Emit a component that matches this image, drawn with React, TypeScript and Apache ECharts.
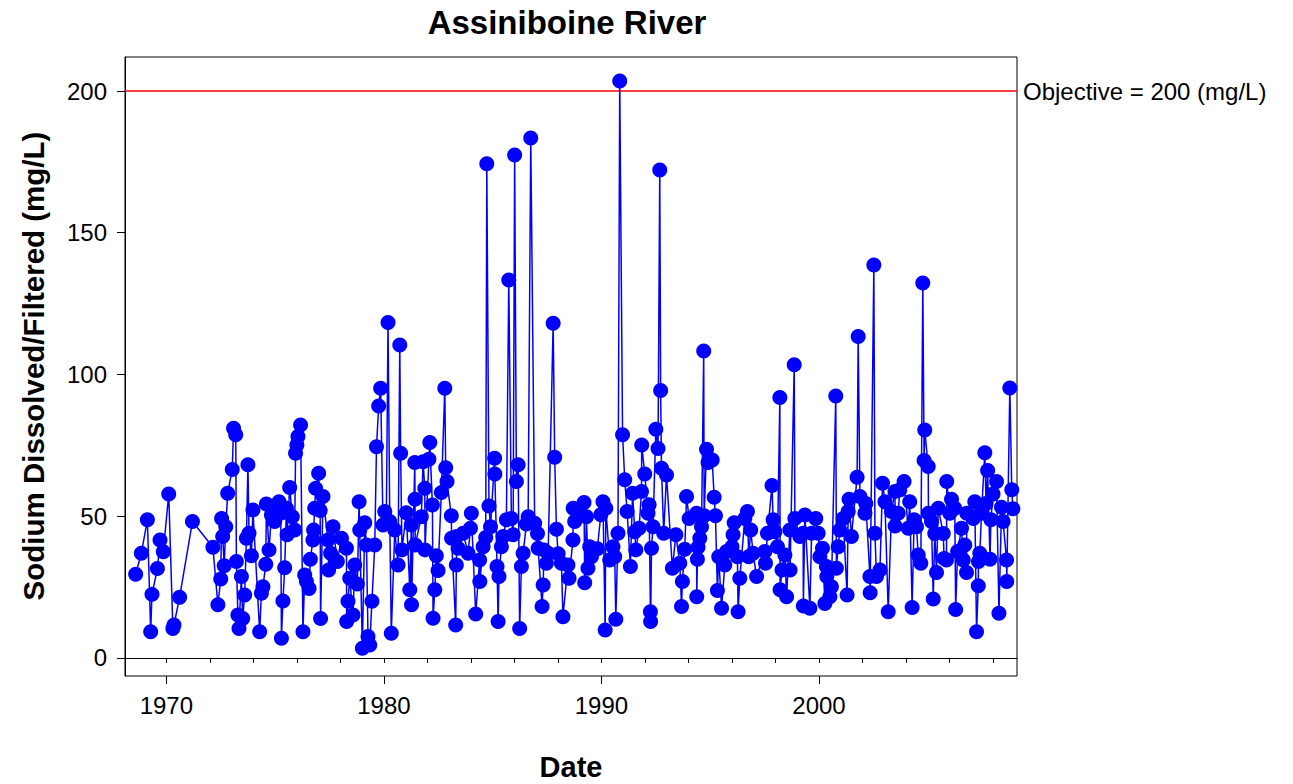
import React, { useEffect, useRef } from "react";
import * as echarts from "echarts";

const dates = [
  1968.59, 1968.85, 1969.13, 1969.28, 1969.34, 1969.59, 1969.71, 1969.86, 1970.11, 1970.30,
  1970.35, 1970.61, 1971.20, 1972.14, 1972.37, 1972.50, 1972.54, 1972.59, 1972.66, 1972.73,
  1972.82, 1973.03, 1973.09, 1973.19, 1973.22, 1973.29, 1973.34, 1973.45, 1973.51, 1973.60,
  1973.68, 1973.75, 1973.80, 1973.91, 1973.98, 1974.29, 1974.37, 1974.44, 1974.57, 1974.60,
  1974.72, 1974.83, 1974.87, 1974.98, 1975.18, 1975.26, 1975.29, 1975.36, 1975.44, 1975.52,
  1975.55, 1975.67, 1975.79, 1975.90, 1975.94, 1976.00, 1976.05, 1976.17, 1976.28, 1976.36,
  1976.44, 1976.56, 1976.62, 1976.74, 1976.77, 1976.82, 1976.86, 1977.00, 1977.07, 1977.09,
  1977.20, 1977.43, 1977.46, 1977.55, 1977.66, 1977.86, 1978.05, 1978.28, 1978.29, 1978.35,
  1978.43, 1978.58, 1978.66, 1978.78, 1978.86, 1978.89, 1979.01, 1979.12, 1979.20, 1979.27,
  1979.35, 1979.45, 1979.58, 1979.66, 1979.76, 1979.85, 1979.96, 1980.04, 1980.11, 1980.19,
  1980.27, 1980.34, 1980.50, 1980.65, 1980.73, 1980.77, 1980.83, 1981.03, 1981.19, 1981.26,
  1981.27, 1981.42, 1981.43, 1981.44, 1981.72, 1981.80, 1981.88, 1981.89, 1982.07, 1982.11,
  1982.23, 1982.26, 1982.34, 1982.41, 1982.49, 1982.64, 1982.80, 1982.84, 1982.90, 1983.10,
  1983.11, 1983.30, 1983.33, 1983.34, 1983.41, 1983.64, 1983.87, 1983.98, 1984.02, 1984.22,
  1984.40, 1984.41, 1984.56, 1984.68, 1984.73, 1984.83, 1984.90, 1985.09, 1985.10, 1985.20,
  1985.25, 1985.29, 1985.40, 1985.48, 1985.63, 1985.74, 1985.86, 1985.94, 1986.01, 1986.09,
  1986.17, 1986.24, 1986.32, 1986.40, 1986.55, 1986.63, 1986.75, 1986.93, 1987.06, 1987.09,
  1987.27, 1987.32, 1987.36, 1987.47, 1987.55, 1987.78, 1987.85, 1987.93, 1988.01, 1988.16,
  1988.23, 1988.46, 1988.51, 1988.69, 1988.70, 1988.77, 1988.92, 1989.20, 1989.23, 1989.31,
  1989.38, 1989.46, 1989.54, 1989.81, 1989.97, 1990.07, 1990.17, 1990.20, 1990.38, 1990.53,
  1990.61, 1990.66, 1990.76, 1990.84, 1990.97, 1991.07, 1991.18, 1991.33, 1991.43, 1991.53,
  1991.58, 1991.73, 1991.84, 1991.85, 1991.99, 1992.14, 1992.19, 1992.25, 1992.26, 1992.30,
  1992.37, 1992.50, 1992.60, 1992.68, 1992.72, 1992.76, 1992.86, 1992.99, 1993.26, 1993.42,
  1993.60, 1993.68, 1993.72, 1993.83, 1993.91, 1994.03, 1994.37, 1994.38, 1994.41, 1994.44,
  1994.52, 1994.60, 1994.70, 1994.72, 1994.83, 1994.90, 1995.09, 1995.18, 1995.24, 1995.33,
  1995.39, 1995.52, 1995.67, 1995.75, 1996.00, 1996.05, 1996.10, 1996.25, 1996.28, 1996.36,
  1996.59, 1996.71, 1996.77, 1996.86, 1996.97, 1997.13, 1997.51, 1997.54, 1997.63, 1997.84,
  1997.89, 1997.97, 1998.09, 1998.20, 1998.21, 1998.30, 1998.43, 1998.51, 1998.66, 1998.67,
  1998.86, 1998.89, 1999.12, 1999.27, 1999.28, 1999.35, 1999.58, 1999.66, 1999.85, 1999.96,
  2000.04, 2000.16, 2000.27, 2000.34, 2000.36, 2000.50, 2000.57, 2000.77, 2000.80, 2000.88,
  2000.96, 2001.11, 2001.29, 2001.34, 2001.38, 2001.49, 2001.75, 2001.80, 2001.88, 2002.11,
  2002.15, 2002.34, 2002.35, 2002.52, 2002.57, 2002.64, 2002.80, 2002.92, 2003.03, 2003.18,
  2003.33, 2003.49, 2003.50, 2003.64, 2003.71, 2003.91, 2004.10, 2004.17, 2004.28, 2004.37,
  2004.48, 2004.56, 2004.68, 2004.77, 2004.83, 2004.86, 2005.02, 2005.03, 2005.17, 2005.25,
  2005.32, 2005.40, 2005.48, 2005.71, 2005.75, 2005.86, 2005.87, 2006.01, 2006.09, 2006.24,
  2006.28, 2006.37, 2006.55, 2006.63, 2006.70, 2006.78, 2006.79, 2007.09, 2007.16, 2007.24,
  2007.32, 2007.33, 2007.39, 2007.47, 2007.62, 2007.68, 2007.75, 2007.86, 2007.90, 2008.00,
  2008.16, 2008.27, 2008.39, 2008.46, 2008.62, 2008.63, 2008.77, 2008.86, 2008.91,
];

const sodium = [
  29.5, 36.9, 48.7, 9.2, 22.4, 31.5, 41.6, 37.4, 57.8, 10.4,
  11.6, 21.4, 48.1, 39.0, 18.7, 27.8, 49.2, 42.8, 32.5, 46.3,
  58.1, 66.5, 81.0, 78.7, 34.0, 15.1, 10.4, 28.7, 13.9, 22.2,
  42.2, 68.1, 44.0, 36.0, 52.2, 9.2, 22.8, 25.1, 33.0, 54.3,
  38.1, 50.4, 52.8, 48.1, 55.1, 51.0, 6.9, 20.1, 31.8, 52.8,
  43.4, 60.1, 49.8, 45.1, 72.2, 75.1, 78.1, 82.2, 9.2, 29.2,
  26.9, 24.5, 34.8, 41.6, 45.1, 52.8, 59.8, 65.1, 52.0, 13.9,
  56.9, 41.6, 31.0, 36.9, 46.3, 34.0, 42.2, 38.7, 12.8, 20.0,
  28.1, 15.1, 32.8, 26.1, 55.1, 45.1, 3.4, 47.7, 39.8, 7.5,
  4.5, 20.0, 39.8, 74.5, 88.9, 95.1, 46.9, 51.6, 47.5, 118.3,
  48.1, 8.7, 45.1, 32.8, 110.4, 72.2, 38.1, 51.2, 24.0, 46.9,
  18.7, 68.9, 56.0, 39.8, 49.8, 69.2, 59.8, 38.1, 70.1, 76.0,
  53.9, 14.0, 24.0, 36.0, 30.8, 58.3, 95.1, 67.1, 62.2, 50.1,
  42.2, 11.6, 32.8, 42.8, 38.7, 44.0, 36.9, 45.7, 51.0, 15.5,
  34.5, 26.9, 39.2, 42.5, 174.3, 53.6, 46.3, 70.4, 64.9, 32.2,
  12.8, 28.7, 39.2, 42.8, 48.7, 133.3, 49.2, 43.4, 177.4, 62.2,
  68.1, 10.4, 32.2, 36.9, 47.2, 49.8, 183.4, 47.5, 43.9, 38.7,
  18.1, 25.7, 38.1, 33.4, 36.9, 118.1, 70.8, 45.4, 36.7, 33.4,
  14.5, 32.8, 28.1, 41.6, 52.8, 48.1, 51.0, 54.8, 26.5, 49.8,
  31.6, 39.2, 35.7, 38.5, 50.5, 55.1, 9.8, 52.8, 34.5, 39.2,
  35.7, 13.6, 44.0, 203.5, 78.7, 62.8, 51.6, 32.2, 58.1, 44.5,
  38.1, 45.7, 58.7, 75.1, 64.9, 51.0, 54.0, 16.3, 12.8, 38.7,
  46.3, 80.7, 73.9, 172.1, 94.3, 66.9, 44.0, 64.5, 31.6, 43.4,
  33.4, 18.1, 26.9, 38.3, 56.9, 49.2, 51.0, 21.6, 34.8, 39.0,
  42.2, 46.3, 108.3, 50.1, 73.6, 68.9, 69.8, 56.7, 50.1, 23.8,
  35.7, 17.5, 32.8, 37.5, 39.2, 43.4, 47.7, 35.7, 16.3, 28.1,
  49.2, 51.6, 35.7, 45.1, 36.9, 28.7, 37.5, 33.4, 44.0, 60.8,
  48.7, 44.5, 39.2, 91.9, 24.0, 31.0, 36.3, 21.6, 45.1, 31.0,
  103.4, 49.2, 42.8, 44.0, 18.3, 50.4, 17.5, 44.0, 49.2, 44.0,
  35.7, 38.7, 19.2, 32.2, 28.7, 21.6, 25.1, 92.4, 31.6, 39.2,
  45.1, 49.2, 22.2, 51.6, 56.0, 42.8, 63.7, 113.4, 56.9, 51.0,
  54.5, 28.7, 23.0, 138.6, 44.0, 28.7, 31.0, 61.6, 55.1, 16.3,
  51.6, 58.7, 46.5, 51.0, 59.2, 62.2, 45.7, 55.1, 17.8, 48.7,
  46.3, 36.3, 33.4, 132.3, 69.6, 80.4, 67.5, 51.0, 48.1, 20.8,
  43.9, 30.1, 52.8, 43.9, 35.1, 34.5, 62.2, 51.0, 56.0, 52.8,
  17.1, 37.5, 45.7, 34.5, 39.8, 30.1, 51.0, 49.2, 55.1, 9.2,
  25.4, 34.0, 36.9, 51.0, 72.4, 54.5, 66.1, 34.8, 48.7, 57.8,
  62.2, 15.7, 53.1, 48.1, 34.5, 26.9, 95.2, 59.3, 52.6,
];

const yTicks = [0, 50, 100, 150, 200];
const xLabelYears = [1970, 1980, 1990, 2000];
const xMinorYears = [
  1970, 1972, 1974, 1976, 1978, 1980, 1982, 1984, 1986, 1988,
  1990, 1992, 1994, 1996, 1998, 2000, 2002, 2004, 2006, 2008,
];
const objective = 200;
const chartTitle = "Assiniboine River";
const xName = "Date";
const yName = "Sodium Dissolved/Filtered (mg/L)";
const objectiveLabel = "Objective = 200 (mg/L)";

export default function App() {
  const ref = useRef<HTMLDivElement>(null);
  useEffect(() => {
    if (!ref.current) return;
    const chart = echarts.init(ref.current, null, { renderer: "svg" });
    const font = "'Liberation Sans', Arial, Helvetica, sans-serif";
    const xMin = 1968.1;
    const xMax = 2009.1;
    chart.setOption({
      animation: false,
      backgroundColor: "#ffffff",
      grid: {
        left: 125,
        right: 276,
        top: 57,
        bottom: 108,
        show: true,
        borderColor: "#000",
        borderWidth: 1,
        backgroundColor: "transparent",
      },
      graphic: [
        {
          type: "text",
          x: 567,
          y: 22,
          style: {
            text: chartTitle,
            font: `bold 33px ${font}`,
            fill: "#000",
            textAlign: "center",
            textVerticalAlign: "middle",
          },
        },
        {
          type: "text",
          x: 571,
          y: 767,
          style: {
            text: xName,
            font: `bold 29px ${font}`,
            fill: "#000",
            textAlign: "center",
            textVerticalAlign: "middle",
          },
        },
        {
          type: "text",
          x: 33,
          y: 366,
          rotation: Math.PI / 2,
          style: {
            text: yName,
            font: `bold 29.5px ${font}`,
            fill: "#000",
            textAlign: "center",
            textVerticalAlign: "middle",
          },
        },
      ],
      xAxis: [
        {
          type: "value",
          min: xMin,
          max: xMax,
          position: "bottom",
          axisLine: { show: true, lineStyle: { color: "#000", width: 1 } },
          axisTick: {
            show: true,
            customValues: xMinorYears,
            length: 5,
            lineStyle: { color: "#000", width: 1 },
          },
          axisLabel: {
            show: true,
            customValues: xLabelYears,
            formatter: (v: number) => String(Math.round(v)),
            color: "#000",
            fontSize: 24,
            fontFamily: font,
            margin: 17,
          },
          splitLine: { show: false },
        },
        {
          type: "value",
          min: xMin,
          max: xMax,
          position: "bottom",
          axisLine: { show: false },
          axisTick: {
            show: true,
            customValues: xLabelYears,
            length: 8,
            lineStyle: { color: "#000", width: 1 },
          },
          axisLabel: { show: false },
          splitLine: { show: false },
        },
      ],
      yAxis: {
        type: "value",
        min: -6.4,
        max: 212,
        axisLine: { show: true, lineStyle: { color: "#000", width: 1 } },
        axisTick: {
          show: true,
          customValues: yTicks,
          length: 8,
          lineStyle: { color: "#000", width: 1 },
        },
        axisLabel: {
          show: true,
          customValues: yTicks,
          color: "#000",
          fontSize: 24,
          fontFamily: font,
          margin: 18,
        },
        splitLine: { show: false },
      },
      series: [
        {
          type: "line",
          xAxisIndex: 0,
          yAxisIndex: 0,
          z: 3,
          data: dates.map((d, i) => [d, sodium[i]]),
          symbol: "circle",
          symbolSize: 15,
          showAllSymbol: true,
          itemStyle: { color: "#0000ff" },
          lineStyle: { color: "#0000ff", width: 1.5 },
          markLine: {
            silent: true,
            z: 1,
            symbol: "none",
            animation: false,
            lineStyle: { color: "#ff0000", width: 1.5, type: "solid" },
            label: {
              show: true,
              position: "end",
              formatter: objectiveLabel,
              color: "#000",
              fontSize: 24,
              fontFamily: font,
              distance: 6,
            },
            data: [{ yAxis: objective }],
          },
        },
      ],
    });
    return () => chart.dispose();
  }, []);
  return (
    <div
      ref={ref}
      style={{ position: "fixed", left: 0, top: 0, width: 1293, height: 784 }}
    />
  );
}
